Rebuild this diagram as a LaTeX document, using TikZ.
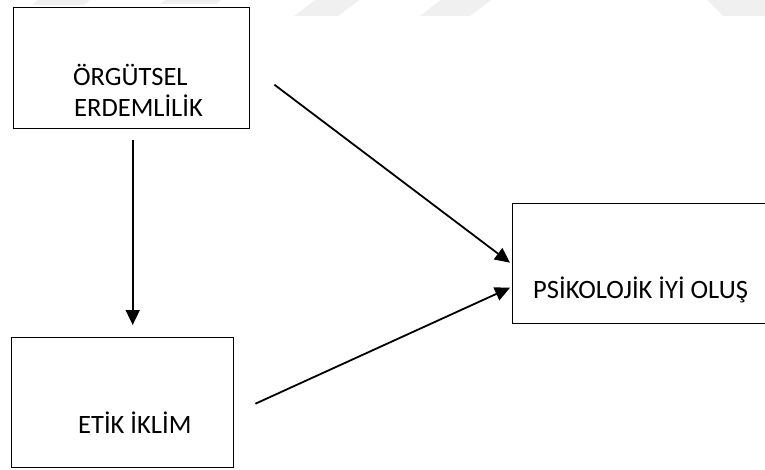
\documentclass[tikz,border=0pt]{standalone}
\usepackage{fontspec}
\setmainfont{Carlito}
\usetikzlibrary{arrows.meta}

\tikzset{
  box/.style={draw=black, line width=1.4pt, fill=white, inner sep=0pt, anchor=north west},
  lbl/.style={inner sep=0pt, anchor=base west, font=\fontsize{26.5}{31}\selectfont},
  arr/.style={draw=black, line width=1.8pt, -{Triangle[length=15pt,width=14pt]}},
  faint/.style={fill=black!6, draw=none}
}

\begin{document}
\begin{tikzpicture}[x=1pt,y=-1pt]
  \useasboundingbox (0,0) rectangle (765,470);
  \clip (0,0) rectangle (765,470);

  % faint background marks along the top edge
  \path[faint] (40,-2) -- (92,-2) -- (84,5) -- (32,5) -- cycle;
  \path[faint] (168,-2) -- (224,-2) -- (216,4) -- (160,4) -- cycle;
  \path[faint] (318,-2) -- (362,-2) -- (338,16) -- (294,16) -- cycle;
  \path[faint] (443,-2) -- (494,-2) -- (470,16) -- (420,16) -- cycle;
  \path[faint] (705,-2) -- (770,-2) -- (770,16) -- (723,16) -- cycle;

  % boxes
  \node[box, minimum width=236pt, minimum height=121pt] (A) at (13,7) {};
  \node[box, minimum width=263pt, minimum height=120pt] (B) at (512,203) {};
  \node[box, minimum width=222pt, minimum height=130pt] (C) at (11,337) {};

  % box texts
  \node[lbl] (A1) at (73,86) {ÖRGÜTSEL};
  \node[lbl] (A2) at (74,117) {ERDEMLİLİK};
  \node[lbl] (B1) at (533,298) {PSİKOLOJİK İYİ OLUŞ};
  \node[lbl] (C1) at (78,433) {ETİK İKLİM};

  % connectors
  \draw[arr, shorten <=11pt, shorten >=12pt] ([xshift=1pt]A.south) -- ([xshift=1pt]A.south |- C.north);
  \draw[arr] ([xshift=24pt,yshift=-16.5pt]A.east) -- ([xshift=-2pt,yshift=1pt]B.west);
  \draw[arr] ([xshift=21pt,yshift=-1pt]C.east) -- ([xshift=-2pt,yshift=-24pt]B.west);
\end{tikzpicture}
\end{document}
